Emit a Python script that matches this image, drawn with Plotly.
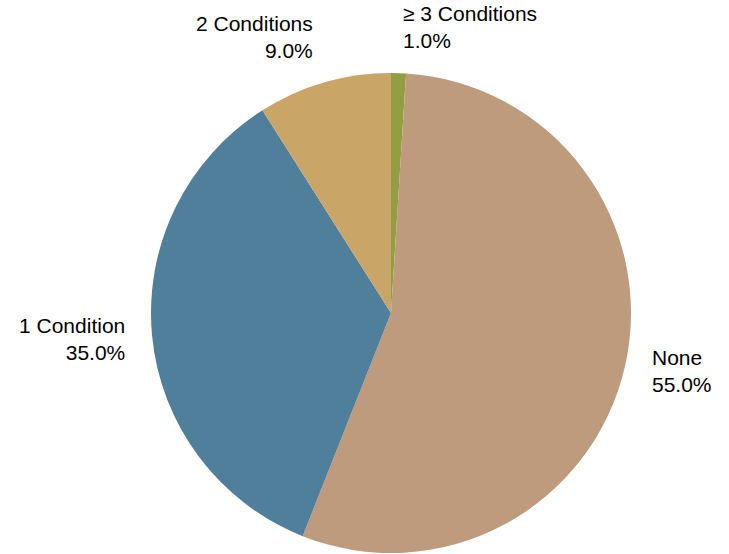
import plotly.graph_objects as go

labels = ["≥ 3 Conditions", "None", "1 Condition", "2 Conditions"]
values = [1.0, 55.0, 35.0, 9.0]
colors = ["#939D42", "#BD9B7C", "#4F7F9B", "#C9A567"]

W, H = 729, 554

fig = go.Figure(go.Pie(
    labels=labels,
    values=values,
    marker=dict(colors=colors, line=dict(width=0)),
    sort=False,
    direction="clockwise",
    rotation=0,
    textinfo="none",
    hoverinfo="label+percent",
    domain=dict(x=[151 / W, 631 / W], y=[1 - 553 / H, 1 - 73 / H]),
    showlegend=False,
))

# label placement (pixel coords): x, y-center, x-anchor
label_pos = {
    "None": (650, 371, "left"),
    "1 Condition": (127, 339, "right"),
    "2 Conditions": (315, 37, "right"),
    "≥ 3 Conditions": (401, 27, "left"),
}

total = sum(values)
for lab, val in zip(labels, values):
    px, py, anchor = label_pos[lab]
    fig.add_annotation(
        x=px / W, y=1 - py / H, xref="paper", yref="paper",
        text=f"{lab}<br>{100 * val / total:.1f}%",
        showarrow=False, xanchor=anchor, yanchor="middle", align=anchor,
        font=dict(family="Liberation Sans, Arial, sans-serif", size=21, color="#000000"),
    )

fig.update_layout(
    width=W, height=H,
    margin=dict(l=0, r=0, t=0, b=0),
    paper_bgcolor="white",
    plot_bgcolor="white",
)

fig.write_html("out.html", config={"displayModeBar": False},
               post_script="document.body.style.margin='0';")
